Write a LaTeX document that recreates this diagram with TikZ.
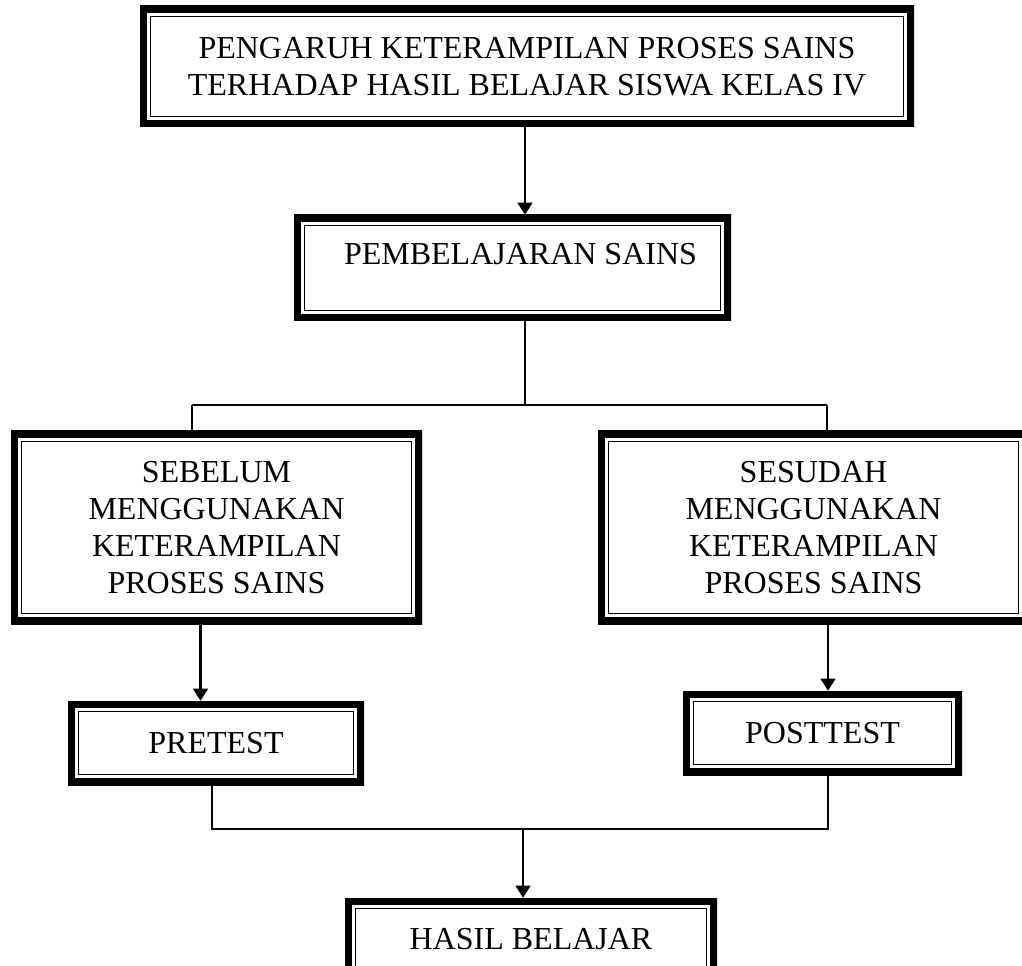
\documentclass[tikz,border=0pt]{standalone}
\usepackage{fontspec}
\setmainfont{Liberation Serif}
\usetikzlibrary{arrows.meta,calc}
\tikzset{
  dbox/.style={rectangle, fill=white, inner sep=0pt, align=center,
    font=\fontsize{24}{27.6}\selectfont,
    path picture={
      \draw[line width=10.5pt] (path picture bounding box.south west) rectangle (path picture bounding box.north east);
      \draw[line width=1.1pt] ([shift={(7.9pt,7.9pt)}]path picture bounding box.south west) rectangle ([shift={(-7.9pt,-7.9pt)}]path picture bounding box.north east);
    }},
  conn/.style={line width=1.1pt},
  arr/.style={line width=1.6pt, -{Triangle[length=9pt,width=11pt]}}
}
\begin{document}
\begin{tikzpicture}[x=0.75pt,y=-0.75pt]
\useasboundingbox (0,0) rectangle (1022,966);
\node[dbox, minimum width=580.5pt, minimum height=90.75pt] (top) at (527,66.5)
  {PENGARUH KETERAMPILAN PROSES SAINS\\TERHADAP HASIL BELAJAR SISWA KELAS IV};
\node[dbox, minimum width=327.75pt, minimum height=79.5pt, text height=15.9pt, text depth=21pt] (pemb) at (512.5,268)
  {\hspace*{12pt}PEMBELAJARAN SAINS};
\node[dbox, minimum width=308.25pt, minimum height=144.75pt] (sebelum) at (216.5,527.5)
  {SEBELUM\\MENGGUNAKAN\\KETERAMPILAN\\PROSES SAINS};
\node[dbox, minimum width=323.25pt, minimum height=144.75pt] (sesudah) at (813.5,527.5)
  {SESUDAH\\MENGGUNAKAN\\KETERAMPILAN\\PROSES SAINS};
\node[dbox, minimum width=222pt, minimum height=63pt] (pre) at (216,743) {PRETEST};
\node[dbox, minimum width=209.25pt, minimum height=63pt] (post) at (822.5,733) {POSTTEST};
\node[dbox, minimum width=279pt, minimum height=61.5pt] (hasil) at (531,939) {HASIL BELAJAR};

\coordinate (s) at (525,405);
\coordinate (jl) at (192,405);
\coordinate (jr) at (827,405);
\coordinate (b) at (523,829);
\coordinate (bl) at (212,829);
\coordinate (br) at (828,829);

\draw[arr] ([xshift=-1.5pt]top.south) -- ([xshift=-1.5pt]top.south |- pemb.north);
\draw[conn] (s |- pemb.south) -- (s);
\draw[conn] (jl) -- (jr);
\draw[conn] (jl) -- (jl |- sebelum.north);
\draw[conn] (jr) -- (jr |- sesudah.north);
\draw[arr] ([xshift=-12pt]sebelum.south) -- ([xshift=-12pt]sebelum.south |- pre.north);
\draw[arr] ([xshift=10.9pt]sesudah.south) -- ([xshift=10.9pt]sesudah.south |- post.north);
\draw[conn] (bl |- pre.south) -- (bl) -- (br) -- (br |- post.south);
\draw[arr] (b) -- (b |- hasil.north);
\end{tikzpicture}
\end{document}
